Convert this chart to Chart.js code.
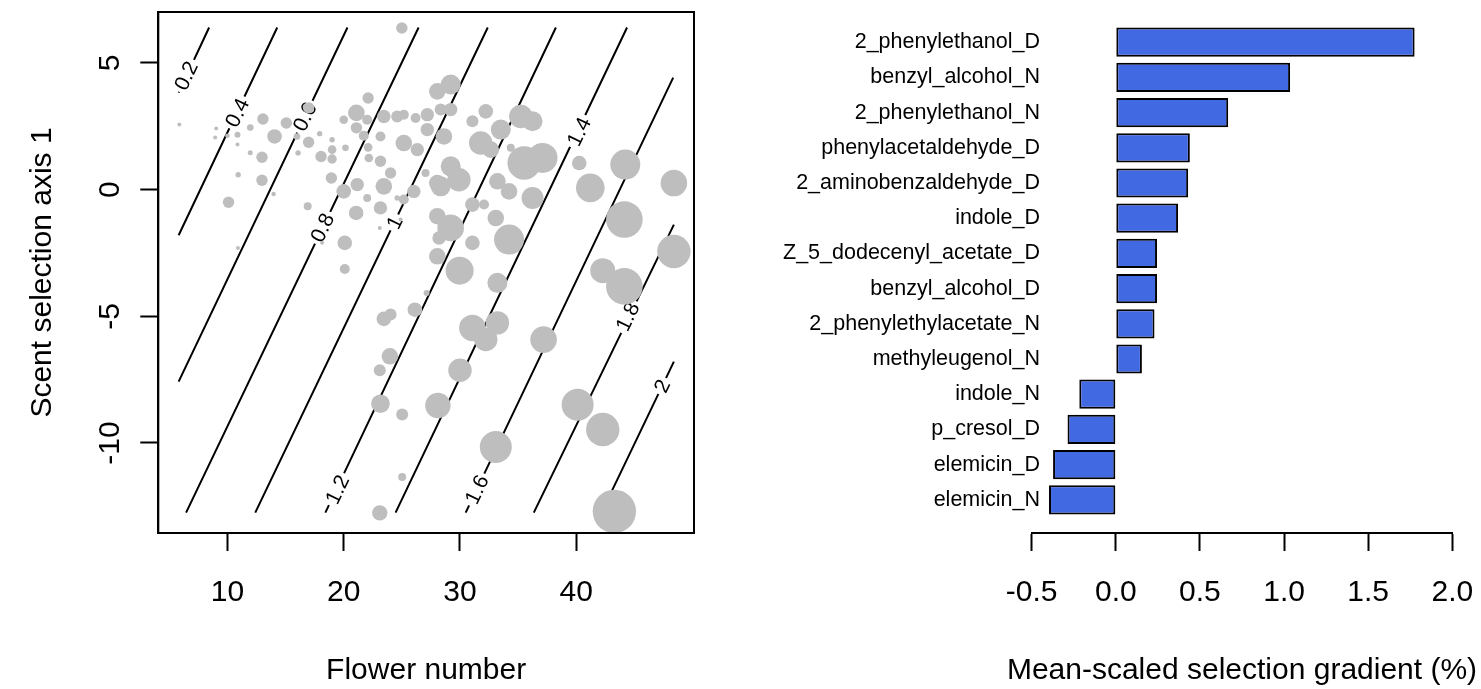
<!DOCTYPE html>
<html>
<head>
<meta charset="utf-8">
<script src="https://cdn.jsdelivr.net/npm/chart.js"></script>
<style>
    body { margin: 0; background: #fff; width: 1481px; height: 689px; position: relative; overflow: hidden; }
    #left { position: absolute; left: 0; top: 0; }
    #right { position: absolute; left: 720px; top: 0; }
</style>
</head>
<body>
<canvas id="left" width="720" height="689"></canvas>
<canvas id="right" width="761" height="689"></canvas>
<script>
// left panel: plants (flower number, scent axis 1) sized by relative fitness
var flowerNumber = [25.0, 5.86, 9.03, 8.94, 10.0, 10.86, 10.86, 11.96, 11.96, 13.05, 12.97, 14.05, 15.06, 15.98, 16.98, 16.98, 16.07, 17.93, 19.0, 18.05,
    19.0, 19.0, 20.15, 10.92, 12.97, 13.97, 10.09, 10.9, 16.9, 18.94, 20.09, 20.0, 21.16, 21.07, 22.1, 21.09, 20.0, 21.09, 21.72, 22.1,
    22.16, 23.16, 23.16, 22.02, 23.45, 24.6, 26.18, 27.19, 28.05, 28.34, 25.17, 27.19, 26.33, 24.03, 23.45, 22.02, 23.16, 24.6, 26.03, 27.04,
    28.05, 24.89, 23.1, 28.05, 28.05, 18.14, 29.2, 29.2, 31.07, 32.22, 25.17, 28.62, 31.78, 33.51, 35.23, 36.24, 32.65, 34.37, 35.52, 37.1,
    29.2, 29.91, 28.34, 25.17, 33.22, 34.22, 32.07, 31.07, 33.08, 36.24, 29.2, 28.2, 31.07, 34.22, 29.97, 40.26, 41.21, 44.22, 48.4, 44.14,
    48.4, 42.28, 20.09, 23.45, 24.03, 26.12, 27.13, 23.97, 23.1, 23.16, 25.03, 28.1, 25.03, 23.1, 33.22, 31.07, 33.22, 32.22, 30.0, 37.19,
    44.14, 40.12, 42.28, 33.08, 43.28];
var scentAxis1 = [6.38, 2.57, 2.41, 2.06, 2.13, 2.17, 1.78, 2.45, 1.46, 2.79, 1.28, 2.10, 2.63, 2.10, 3.23, 1.87, 1.45, 2.21, 1.97, 1.31,
    1.58, 1.21, 1.65, 0.59, 0.37, -0.17, -0.50, -2.30, -0.66, 0.46, -2.10, -0.07, 0.20, -0.92, 3.62, 3.03, 2.76, 2.44, 2.13, 1.67,
    1.25, 1.12, 2.10, 2.76, 2.89, 2.89, 2.83, 2.96, 3.88, 3.16, 1.84, 2.37, 1.58, 0.66, 0.13, -0.33, -0.72, -0.33, -0.07, 0.66,
    0.26, -1.18, -1.51, -1.05, -2.63, -2.10, 4.15, 3.16, 2.70, 3.09, 2.96, 2.10, 1.84, 2.37, 2.89, 2.70, 1.58, 1.65, 1.05, 1.25,
    0.92, 0.39, 0.13, -0.39, 0.33, -0.07, -0.59, -0.59, -1.12, -0.33, -1.51, -1.91, -2.10, -1.97, -3.20, 1.05, 0.07, 0.99, 0.26, -1.18,
    -2.44, -3.20, -3.13, -5.10, -4.93, -4.74, -4.08, -6.58, -7.13, -8.45, -8.88, -8.52, -11.34, -12.76, -3.68, -5.46, -5.26, -5.92, -7.13, -5.92,
    -3.82, -8.49, -9.47, -10.16, -12.70];
var fitness = [0.57, 0.20, 0.20, 0.20, 0.23, 0.30, 0.20, 0.33, 0.25, 0.57, 0.57, 0.73, 0.57, 0.33, 0.57, 0.57, 0.27, 0.27, 0.27, 0.57,
    0.43, 0.47, 0.33, 0.27, 0.57, 0.23, 0.57, 0.20, 0.40, 0.57, 0.73, 0.73, 0.67, 0.73, 0.57, 0.83, 0.43, 0.57, 0.50, 0.43,
    0.43, 0.57, 0.50, 0.50, 0.67, 0.60, 0.50, 0.67, 0.83, 0.60, 0.83, 0.67, 0.67, 0.57, 0.83, 0.40, 0.67, 0.27, 0.67, 0.40,
    0.83, 0.20, 0.20, 0.83, 0.83, 0.20, 1.00, 0.67, 0.60, 0.73, 0.50, 0.83, 1.17, 1.00, 1.17, 1.00, 0.83, 0.40, 1.67, 1.50,
    1.00, 1.17, 1.00, 0.50, 0.83, 0.83, 0.50, 0.73, 0.83, 1.10, 1.33, 0.67, 0.73, 1.50, 1.40, 0.73, 1.43, 1.50, 1.33, 1.83,
    1.67, 1.25, 0.50, 0.73, 0.60, 0.73, 0.30, 0.83, 0.60, 0.93, 0.60, 1.27, 0.40, 0.77, 1.00, 1.33, 1.17, 1.17, 1.17, 1.33,
    1.83, 1.60, 1.67, 1.60, 2.17];

// fitness contours: level, upper end, lower end, label position (data units)
var contourLevels = [0.2, 0.4, 0.6, 0.8, 1, 1.2, 1.4, 1.6, 1.8, 2];
var contourUpper = [[8.42, 6.40], [14.28, 6.40], [20.32, 6.40], [26.44, 6.40], [32.39, 6.40], [38.25, 6.40], [44.37, 6.40], [48.34, 4.42], [48.4, -1.38], [48.4, -6.79]];
var contourLower = [[5.8, 3.83], [5.8, -1.80], [5.8, -7.58], [6.44, -12.75], [12.39, -12.75], [18.42, -12.75], [24.46, -12.75], [30.49, -12.75], [36.35, -12.75], [42.17, -12.75]];
var contourLabelAt = [[6.45, 4.5], [10.84, 3.04], [16.66, 2.88], [18.16, -1.50], [24.38, -1.30], [19.45, -11.84], [40.24, 2.29], [31.45, -11.84], [44.43, -5.01], [47.4, -7.75]];

var flowerTicks = [10, 20, 30, 40];
var scentTicks = [-10, -5, 0, 5];

// right panel
var compounds = ['2_phenylethanol_D', 'benzyl_alcohol_N', '2_phenylethanol_N', 'phenylacetaldehyde_D', '2_aminobenzaldehyde_D',
    'indole_D', 'Z_5_dodecenyl_acetate_D', 'benzyl_alcohol_D', '2_phenylethylacetate_N', 'methyleugenol_N',
    'indole_N', 'p_cresol_D', 'elemicin_D', 'elemicin_N'];
var gradient = [1.776, 1.036, 0.668, 0.44, 0.43, 0.37, 0.245, 0.245, 0.23, 0.155, -0.217, -0.287, -0.373, -0.397];
var gradientTicks = [-0.5, 0, 0.5, 1, 1.5, 2];
var gradientTitle = 'Mean-scaled selection gradient (%)';

var fontFamily = '"Liberation Sans", Arial, Helvetica, sans-serif';
Chart.defaults.font.family = fontFamily;
Chart.defaults.color = '#000';

function setTicks(list) {
    return function (scale) {
        scale.ticks = list.map(function (v) { return { value: v }; });
    };
}

// fixed axis sizes, no extra room for overhanging labels
function fixHeight(h) {
    return function (s) { s.height = h; s.paddingLeft = 0; s.paddingRight = 0; };
}
function fixWidth(w) {
    return function (s) { s.width = w; s.paddingTop = 0; s.paddingBottom = 0; };
}

var bubbles = flowerNumber.map(function (x, i) {
    return { x: x, y: scentAxis1[i], r: fitness[i] * 10 };
});

var contourData = [];
for (var i = 0; i < contourLevels.length; i++) {
    contourData.push({ x: contourUpper[i][0], y: contourUpper[i][1] });
    contourData.push({ x: contourLower[i][0], y: contourLower[i][1] });
    contourData.push({ x: null, y: null });
}

var contourLabels = {
    id: 'contourLabels',
    afterDatasetDraw: function (chart, args) {
        if (args.index !== 0) return;
        var xs = chart.scales.x, ys = chart.scales.y, ctx = chart.ctx;
        ctx.save();
        ctx.font = '21px ' + fontFamily;
        ctx.textAlign = 'center';
        ctx.textBaseline = 'middle';
        for (var i = 0; i < contourLevels.length; i++) {
            var ang = Math.atan2(
                ys.getPixelForValue(contourUpper[i][1]) - ys.getPixelForValue(contourLower[i][1]),
                xs.getPixelForValue(contourUpper[i][0]) - xs.getPixelForValue(contourLower[i][0]));
            var txt = String(contourLevels[i]);
            var w = ctx.measureText(txt).width;
            ctx.save();
            ctx.translate(xs.getPixelForValue(contourLabelAt[i][0]), ys.getPixelForValue(contourLabelAt[i][1]));
            ctx.rotate(ang);
            ctx.fillStyle = '#fff';
            ctx.fillRect(-w / 2 - 3, -8, w + 6, 16);
            ctx.fillStyle = '#000';
            ctx.fillText(txt, 0, 1);
            ctx.restore();
        }
        ctx.restore();
    }
};

var plotBox = {
    id: 'plotBox',
    afterDraw: function (chart) {
        var a = chart.chartArea, ctx = chart.ctx;
        ctx.save();
        ctx.strokeStyle = '#000';
        ctx.lineWidth = 2;
        ctx.strokeRect(a.left, a.top, a.right - a.left, a.bottom - a.top);
        ctx.restore();
    }
};

// compound names end a little inside the left edge of the plot region, as in R
var nameShift = {
    id: 'nameShift',
    afterLayout: function (chart) {
        chart.scales.y.left += 8.3;
        chart.scales.y.right += 8.3;
    }
};

// the x title is wider than the plot region, so it is drawn without squeezing
var wideTitle = {
    id: 'wideTitle',
    afterDraw: function (chart) {
        var a = chart.chartArea, ctx = chart.ctx;
        ctx.save();
        ctx.font = '30px ' + fontFamily;
        ctx.fillStyle = '#000';
        ctx.textAlign = 'center';
        ctx.textBaseline = 'middle';
        ctx.fillText(gradientTitle, (a.left + a.right) / 2, chart.height - 18);
        ctx.restore();
    }
};

new Chart(document.getElementById('left'), {
    type: 'scatter',
    data: {
        datasets: [{
            type: 'line',
            data: contourData,
            borderColor: '#000',
            borderWidth: 2,
            pointRadius: 0,
            spanGaps: false,
            order: 2
        }, {
            type: 'bubble',
            data: bubbles,
            backgroundColor: '#bebebe',
            borderWidth: 0,
            clip: 0,
            order: 1
        }]
    },
    options: {
        responsive: false,
        animation: false,
        layout: { autoPadding: false, padding: { top: 12, right: 26, bottom: 0, left: 0 } },
        plugins: { legend: { display: false }, tooltip: { enabled: false } },
        scales: {
            x: {
                type: 'linear', min: 4.05, max: 50.13,
                afterBuildTicks: setTicks(flowerTicks),
                afterFit: fixHeight(156),
                grid: { drawOnChartArea: false, tickLength: 18, tickColor: '#000', tickWidth: 2 },
                border: { display: true, color: '#000', width: 2 },
                ticks: { font: { size: 30 }, padding: 24, maxRotation: 0, autoSkip: false },
                title: { display: true, text: 'Flower number', font: { size: 30 }, padding: { top: 0, bottom: 0 } }
            },
            y: {
                type: 'linear', min: -13.555, max: 7.013,
                afterBuildTicks: setTicks(scentTicks),
                afterFit: fixWidth(158.3),
                grid: { drawOnChartArea: false, tickLength: 18, tickColor: '#000', tickWidth: 2 },
                border: { display: true, color: '#000', width: 2 },
                ticks: { font: { size: 30 }, padding: 8, minRotation: 90, maxRotation: 90, crossAlign: 'center', autoSkip: false },
                title: { display: true, text: 'Scent selection axis 1', font: { size: 30 }, padding: { top: 25, bottom: 0 } }
            }
        }
    },
    plugins: [contourLabels, plotBox]
});

new Chart(document.getElementById('right'), {
    type: 'bar',
    data: {
        datasets: [{
            data: compounds.map(function (c, i) { return { x: gradient[i], y: i }; }),
            backgroundColor: '#4169e1',
            borderColor: '#000',
            borderWidth: 2,
            borderSkipped: false,
            barPercentage: 0.83,
            categoryPercentage: 1
        }]
    },
    options: {
        indexAxis: 'y',
        responsive: false,
        animation: false,
        layout: { autoPadding: false, padding: { top: 12, right: 28.7, bottom: 0, left: 0 } },
        plugins: { legend: { display: false }, tooltip: { enabled: false } },
        scales: {
            x: {
                type: 'linear', min: -0.5, max: 2,
                afterBuildTicks: setTicks(gradientTicks),
                afterFit: fixHeight(156),
                grid: { drawOnChartArea: false, tickLength: 18, tickColor: '#000', tickWidth: 2 },
                border: { display: true, color: '#000', width: 2 },
                ticks: {
                    font: { size: 30 }, padding: 24, maxRotation: 0, autoSkip: false,
                    callback: function (v) { return v.toFixed(1); }
                },
                title: { display: false }
            },
            y: {
                type: 'linear', reverse: true, offset: false, min: -0.858, max: 13.943,
                afterBuildTicks: setTicks(compounds.map(function (c, i) { return i; })),
                afterFit: fixWidth(311.7),
                grid: { display: false, drawTicks: false, tickLength: 0, offset: false },
                border: { display: false },
                ticks: {
                    font: { size: 21.5 }, padding: 0, crossAlign: 'near', autoSkip: false,
                    callback: function (v) { return compounds[v]; }
                }
            }
        }
    },
    plugins: [nameShift, wideTitle]
});
</script>
</body>
</html>
